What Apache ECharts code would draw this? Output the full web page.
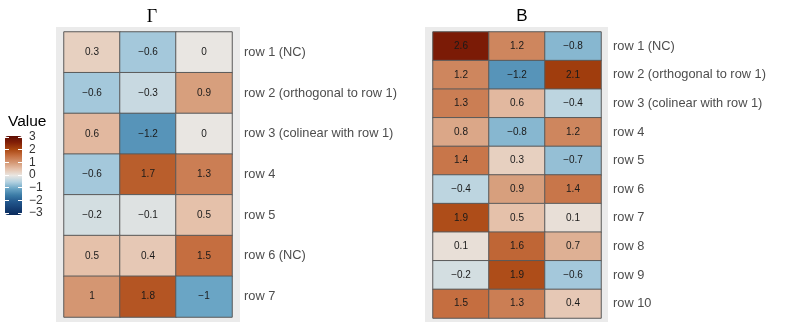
<!DOCTYPE html>
<html>
<head>
<meta charset="utf-8">
<script src="https://cdn.jsdelivr.net/npm/echarts@6/dist/echarts.min.js"></script>
<style>
  html, body { margin: 0; padding: 0; background: #fff; }
  #chart { width: 789px; height: 329px; }
</style>
</head>
<body>
<div id="chart"></div>
<script>
// 列（三列）
var cols = ['1', '2', '3'];
// Γ 的行名
var gammaRows = ['row 1 (NC)', 'row 2 (orthogonal to row 1)', 'row 3 (colinear with row 1)',
  'row 4', 'row 5', 'row 6 (NC)', 'row 7'];
var gammaValues = [
  [0.3, -0.6, 0],
  [-0.6, -0.3, 0.9],
  [0.6, -1.2, 0],
  [-0.6, 1.7, 1.3],
  [-0.2, -0.1, 0.5],
  [0.5, 0.4, 1.5],
  [1, 1.8, -1]
];
// B 的行名
var bRows = ['row 1 (NC)', 'row 2 (orthogonal to row 1)', 'row 3 (colinear with row 1)',
  'row 4', 'row 5', 'row 6', 'row 7', 'row 8', 'row 9', 'row 10'];
var bValues = [
  [2.6, 1.2, -0.8],
  [1.2, -1.2, 2.1],
  [1.3, 0.6, -0.4],
  [0.8, -0.8, 1.2],
  [1.4, 0.3, -0.7],
  [-0.4, 0.9, 1.4],
  [1.9, 0.5, 0.1],
  [0.1, 1.6, 0.7],
  [-0.2, 1.9, -0.6],
  [1.5, 1.3, 0.4]
];
// 色标范围
var scaleMin = -3;
var scaleMax = 3;
var palette = ['#0a2a5c', '#153f74', '#22578c', '#3b7ba6', '#6aa5c5', '#b2d1e0', '#e9e6e2',
  '#e5c1aa', '#d49672', '#c56e40', '#a8450f', '#821f06', '#5e0d05'];

function toCells(values) {
  var out = [];
  values.forEach(function (row, r) {
    row.forEach(function (v, c) { out.push([c, r, v]); });
  });
  return out;
}
function minus(v) {
  return String(v).replace('-', '\u2212');
}

var myChart = echarts.init(document.getElementById('chart'));

var rowAxis = function (gridIndex, data) {
  return {
    type: 'category', gridIndex: gridIndex, data: data, inverse: true, position: 'right',
    axisLine: { show: false }, axisTick: { show: false }, splitLine: { show: false },
    axisLabel: { color: '#4d4d4d', fontSize: 12.8, margin: 12 }
  };
};
var colAxis = function (gridIndex) {
  return { type: 'category', gridIndex: gridIndex, data: cols, show: false };
};
var cellSeries = function (idx, values) {
  return {
    type: 'heatmap', xAxisIndex: idx, yAxisIndex: idx, data: toCells(values),
    itemStyle: { borderColor: '#5a5a5a', borderWidth: 1 },
    label: {
      show: true, fontSize: 10, color: '#1a1a1a',
      formatter: function (p) { return minus(p.value[2]); }
    },
    emphasis: { disabled: true }
  };
};
var legendAxis = function (pos, labels) {
  return {
    type: 'value', gridIndex: 2, min: scaleMin, max: scaleMax, interval: 1, position: pos, z: 10,
    axisLine: { show: false }, splitLine: { show: false },
    axisTick: { show: true, inside: true, length: 4, lineStyle: { color: '#fff', width: 1 } },
    axisLabel: {
      show: labels, color: '#333', fontSize: 12, margin: 7, formatter: minus,
      showMinLabel: true, showMaxLabel: true, hideOverlap: false
    }
  };
};

var option = {
  textStyle: { fontFamily: 'Liberation Sans, Arial, sans-serif' },
  animation: false,
  title: [
    { text: 'Γ', left: 147, top: 3, textAlign: 'center',
      textStyle: { fontFamily: 'Liberation Serif, serif', fontSize: 18, fontWeight: 'normal', color: '#000' } },
    { text: 'B', left: 517, top: 3, textAlign: 'center',
      textStyle: { fontSize: 17, fontWeight: 'normal', color: '#000' } },
    { text: 'Value', left: 3, top: 109,
      textStyle: { fontSize: 15.5, fontWeight: 'normal', color: '#000' } }
  ],
  graphic: [
    { type: 'rect', z: -10, shape: { x: 56, y: 27, width: 184, height: 295 }, style: { fill: '#ebebeb' } },
    { type: 'rect', z: -10, shape: { x: 425, y: 27, width: 183, height: 295 }, style: { fill: '#ebebeb' } }
  ],
  grid: [
    { left: 64, top: 32, width: 168, height: 285 },
    { left: 433, top: 32, width: 168, height: 286 },
    { left: 5, top: 137, width: 17, height: 76 }
  ],
  xAxis: [colAxis(0), colAxis(1), { type: 'value', gridIndex: 2, show: false }],
  yAxis: [rowAxis(0, gammaRows), rowAxis(1, bRows), legendAxis('left', false), legendAxis('right', true)],
  visualMap: {
    type: 'continuous', min: scaleMin, max: scaleMax, seriesIndex: [0, 1],
    left: 5, top: 136, itemWidth: 17, itemHeight: 79, padding: 0,
    calculable: false, realtime: false, hoverLink: false,
    inRange: { color: palette }
  },
  series: [cellSeries(0, gammaValues), cellSeries(1, bValues)]
};
myChart.setOption(option);
</script>
</body>
</html>
